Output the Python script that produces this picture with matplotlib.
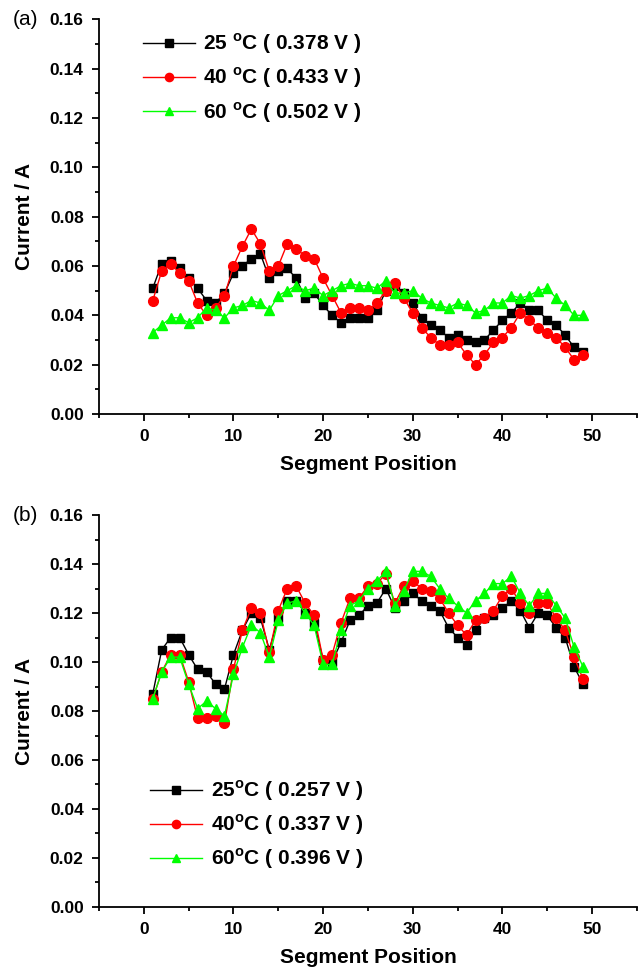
import matplotlib
matplotlib.use("Agg")
import matplotlib.pyplot as plt
from matplotlib.ticker import MultipleLocator

plt.rcParams['font.family'] = ['Liberation Sans', 'DejaVu Sans']
plt.rcParams['font.weight'] = 'bold'
plt.rcParams['mathtext.fontset'] = 'custom'
plt.rcParams['mathtext.rm'] = 'Liberation Sans:bold'
plt.rcParams['mathtext.bf'] = 'Liberation Sans:bold'

pos = list(range(1, 50))

# (a) 電流分布
a_25 = [0.051, 0.061, 0.062, 0.059, 0.055, 0.051, 0.046, 0.045, 0.049, 0.057,
        0.060, 0.063, 0.065, 0.055, 0.058, 0.059, 0.055, 0.047, 0.049, 0.044,
        0.040, 0.037, 0.039, 0.039, 0.039, 0.042, 0.050, 0.052, 0.049, 0.045,
        0.039, 0.036, 0.034, 0.031, 0.032, 0.030, 0.029, 0.030, 0.034, 0.038,
        0.041, 0.045, 0.042, 0.042, 0.038, 0.036, 0.032, 0.027, 0.025]
a_40 = [0.046, 0.058, 0.061, 0.057, 0.054, 0.045, 0.040, 0.043, 0.048, 0.060,
        0.068, 0.075, 0.069, 0.058, 0.060, 0.069, 0.067, 0.064, 0.063, 0.055,
        0.048, 0.041, 0.043, 0.043, 0.042, 0.045, 0.050, 0.053, 0.047, 0.041,
        0.035, 0.031, 0.028, 0.028, 0.029, 0.024, 0.020, 0.024, 0.029, 0.031,
        0.035, 0.041, 0.038, 0.035, 0.033, 0.031, 0.027, 0.022, 0.024]
a_60 = [0.033, 0.036, 0.039, 0.039, 0.037, 0.039, 0.043, 0.042, 0.039, 0.043,
        0.044, 0.046, 0.045, 0.042, 0.048, 0.050, 0.052, 0.050, 0.051, 0.048,
        0.050, 0.052, 0.053, 0.052, 0.052, 0.051, 0.054, 0.049, 0.049, 0.050,
        0.047, 0.045, 0.044, 0.043, 0.045, 0.044, 0.041, 0.042, 0.045, 0.045,
        0.048, 0.047, 0.048, 0.050, 0.051, 0.047, 0.044, 0.040, 0.040]

# (b)
b_25 = [0.087, 0.105, 0.110, 0.110, 0.103, 0.097, 0.096, 0.091, 0.089, 0.103,
        0.113, 0.120, 0.118, 0.105, 0.118, 0.125, 0.125, 0.120, 0.116, 0.101,
        0.100, 0.108, 0.117, 0.119, 0.123, 0.124, 0.130, 0.122, 0.125, 0.128,
        0.125, 0.123, 0.121, 0.114, 0.110, 0.107, 0.113, 0.118, 0.119, 0.122,
        0.125, 0.121, 0.114, 0.120, 0.119, 0.114, 0.110, 0.098, 0.091]
b_40 = [0.085, 0.096, 0.103, 0.103, 0.092, 0.077, 0.077, 0.078, 0.075, 0.097,
        0.113, 0.122, 0.120, 0.104, 0.121, 0.130, 0.131, 0.124, 0.119, 0.101,
        0.103, 0.116, 0.126, 0.126, 0.131, 0.132, 0.136, 0.124, 0.131, 0.133,
        0.130, 0.129, 0.126, 0.120, 0.115, 0.111, 0.117, 0.118, 0.121, 0.127,
        0.130, 0.124, 0.120, 0.124, 0.124, 0.118, 0.113, 0.102, 0.093]
b_60 = [0.085, 0.096, 0.102, 0.102, 0.091, 0.081, 0.084, 0.081, 0.078, 0.095,
        0.106, 0.115, 0.112, 0.102, 0.117, 0.124, 0.125, 0.120, 0.115, 0.099,
        0.099, 0.113, 0.123, 0.125, 0.130, 0.133, 0.137, 0.123, 0.129, 0.137,
        0.137, 0.135, 0.130, 0.126, 0.123, 0.120, 0.125, 0.128, 0.132, 0.132,
        0.135, 0.128, 0.123, 0.128, 0.128, 0.123, 0.118, 0.106, 0.098]

labels_a = [r'25 $^{\rm o}$C ( 0.378 V )', r'40 $^{\rm o}$C ( 0.433 V )', r'60 $^{\rm o}$C ( 0.502 V )']
labels_b = [r'25$^{\rm o}$C ( 0.257 V )', r'40$^{\rm o}$C ( 0.337 V )', r'60$^{\rm o}$C ( 0.396 V )']

colors = ['black', 'red', '#00ff00']
markers = ['s', 'o', '^']
msizes = [6, 7, 7.5]

fig = plt.figure(figsize=(6.42, 9.69), dpi=100)
ax1 = fig.add_axes([0.1542, 0.5728, 0.8378, 0.4072])
ax2 = fig.add_axes([0.1542, 0.064, 0.8378, 0.4045])

for ax, data, labels, tag, anchor in [
        (ax1, [a_25, a_40, a_60], labels_a, '(a)', (0.066, 0.99)),
        (ax2, [b_25, b_40, b_60], labels_b, '(b)', (0.08, 0.349))]:
    for vals, c, m, ms, lab in zip(data, colors, markers, msizes, labels):
        ax.plot(pos, vals, color=c, marker=m, markersize=ms, lw=1.0,
                markeredgecolor=c, label=lab)
    ax.set_xlim(-5, 55)
    ax.set_ylim(0, 0.16)
    ax.xaxis.set_major_locator(MultipleLocator(10))
    ax.xaxis.set_minor_locator(MultipleLocator(5))
    ax.yaxis.set_major_locator(MultipleLocator(0.02))
    ax.yaxis.set_minor_locator(MultipleLocator(0.01))
    ax.yaxis.set_major_formatter(plt.FormatStrFormatter('%.2f'))
    ax.spines['top'].set_visible(False)
    ax.spines['right'].set_visible(False)
    for s in ['left', 'bottom']:
        ax.spines[s].set_linewidth(1.3)
    ax.tick_params(which='major', direction='out', length=5, width=1.3,
                   labelsize=12.5, pad=6)
    ax.tick_params(which='minor', direction='out', length=3, width=1.3)
    ax.set_xlabel('Segment Position', fontsize=15, fontweight='bold', labelpad=8)
    ax.set_ylabel('Current / A', fontsize=15, fontweight='bold', labelpad=11)
    # パネル記号
    bb = ax.get_position()
    fig.text(0.02, bb.y1, tag, fontsize=15, fontweight='normal',
             va='center', ha='left')
    ax.legend(loc='upper left', bbox_to_anchor=anchor, frameon=False,
              fontsize=15, handlelength=2.5, handletextpad=0.4,
              labelspacing=0.45, borderaxespad=0, numpoints=1, markerscale=0.85)

fig.savefig('out.png', dpi=100)
